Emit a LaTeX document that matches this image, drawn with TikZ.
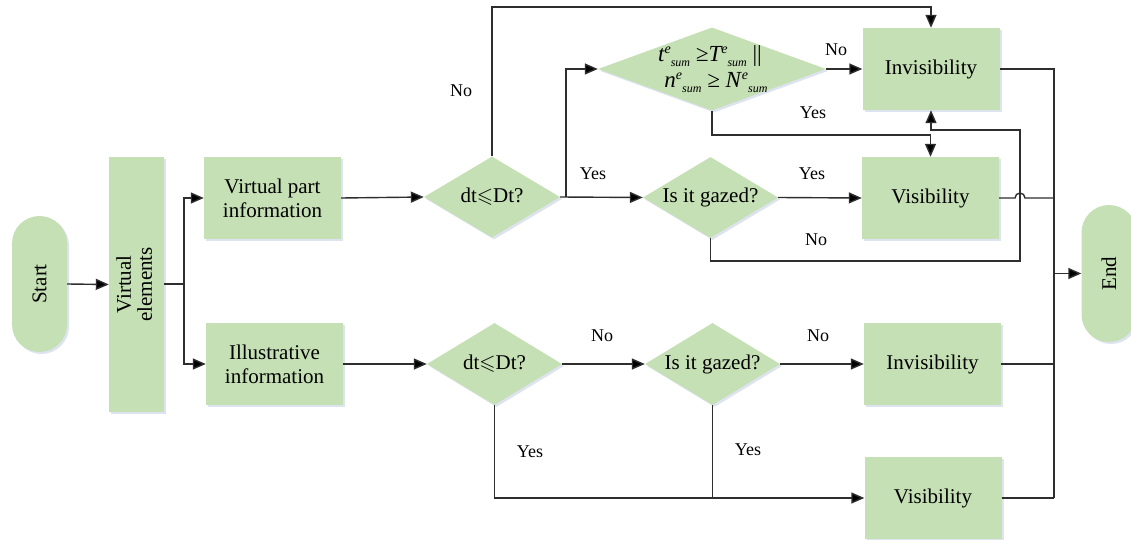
\documentclass[tikz,border=0pt]{standalone}
\usepackage{fontspec}
\usepackage{amssymb}
\setmainfont{Liberation Serif}
\usetikzlibrary{shapes.geometric,arrows.meta,shadows}
\definecolor{boxgreen}{HTML}{C5E0B4}
\definecolor{linegray}{HTML}{2E2E2E}
\definecolor{shadowblue}{HTML}{D6DEEC}
\newcommand{\esum}{\raisebox{8pt}{\fontsize{14}{14}\selectfont e}\raisebox{-5pt}{\fontsize{12}{12}\selectfont sum}}
\tikzset{
  shade/.style={drop shadow={shadow xshift=2pt,shadow yshift=-2pt,fill=shadowblue,opacity=0.8}},
  procbox/.style={rectangle,fill=boxgreen,draw=none,inner sep=0pt,minimum width=137pt,minimum height=82pt,align=center,font=\fontsize{21}{24}\selectfont,shade},
  decbox/.style={diamond,fill=boxgreen,draw=none,inner sep=0pt,minimum width=136pt,minimum height=81pt,shade},
  dtext/.style={inner sep=0pt,align=center,font=\fontsize{21}{24}\selectfont},
  termbox/.style={rectangle,rounded corners=27.5pt,fill=boxgreen,draw=none,inner sep=0pt,minimum width=55pt,minimum height=136pt,font=\fontsize{21}{24}\selectfont,shade},
  lbl/.style={font=\fontsize{18}{21}\selectfont,inner sep=0pt},
  conn/.style={draw=linegray,line width=1.4pt},
  arr/.style={conn,-{Triangle[length=13pt,width=11pt,fill=black]}},
}
\begin{document}
\begin{tikzpicture}[x=1pt,y=-1pt]
\useasboundingbox (0,0) rectangle (1131,540);
\fill[white] (0,0) rectangle (1131,540);
% nodes
\node[termbox] (start) at (39.5,284) {\rotatebox{90}{Start}};
\node[procbox,minimum width=55pt,minimum height=255pt] (ve) at (136.5,284.5) {\rotatebox{90}{\begin{tabular}{c}Virtual\\[-3pt]elements\end{tabular}}};
\node[procbox] (vp) at (272.5,198) {Virtual part\\information};
\node[procbox] (ii) at (274.5,364) {Illustrative\\information};
\node[decbox] (d1) at (492,197) {};
\node[dtext] (d1t) at (d1) {dt$\leqslant$Dt?};
\node[decbox,minimum width=135pt] (d2) at (710.5,197.5) {};
\node[dtext] (d2t) at (d2) {Is it gazed?};
\node[decbox,minimum width=228pt,minimum height=83pt] (dtop) at (712,69) {};
\node[dtext,font=\fontsize{23}{26}\selectfont\itshape] (dtop1) at (710,56) {t\esum\ ≥T\esum\ \upshape||};
\node[dtext,font=\fontsize{23}{26}\selectfont\itshape] (dtop2) at (716,83) {n\esum\ ≥ N\hspace{1pt}\esum};
\node[procbox] (inv1) at (931,69) {Invisibility};
\node[procbox] (vis1) at (930.5,198) {Visibility};
\node[decbox,minimum width=135pt,minimum height=82pt] (d3) at (494.5,364) {};
\node[dtext] (d3t) at (d3) {dt$\leqslant$Dt?};
\node[decbox,minimum width=135pt,minimum height=82pt] (d4) at (712.5,364) {};
\node[dtext] (d4t) at (d4) {Is it gazed?};
\node[procbox] (inv2) at (932.5,364) {Invisibility};
\node[procbox] (vis2) at (933,498) {Visibility};
\node[termbox,minimum height=137pt] (end) at (1109,273.5) {\rotatebox{90}{End}};
% helper coordinates
\coordinate (ytop) at (0,7);
\coordinate (split) at (184,284);
\coordinate (br) at (566,197);
\coordinate (yB) at (0,135);
\coordinate (c1) at (1020,261);
\coordinate (c2) at (1020,130);
\coordinate (busx) at (1054,0);
\coordinate (bustop) at (1054,69);
\coordinate (busbot) at (1054,498);
\coordinate (ybot) at (0,498);
% connectors
\draw[arr] (start.east) -- (ve.west);
\draw[conn] (ve.east |- split) -- (split);
\draw[arr] (split) |- (vp.west);
\draw[arr] (split) |- (ii.west);
\draw[arr] (vp.east) -- (d1.west);
\draw[arr] (d1.north) -- (d1.north |- ytop) -| (inv1.north);
\draw[arr] (d1.east) -- (d2.west);
\draw[arr] (br) |- (dtop.west);
\draw[arr] (dtop.east) -- (inv1.west);
\draw[arr] (dtop.south) -- (dtop.south |- yB) -| (vis1.north);
\draw[arr] (d2.east) -- (vis1.west);
\draw[arr] (d2.south) |- (c1) -- (c2) -| (inv1.south);
\draw[conn] (inv1.east) -- (bustop) -- (busbot);
\draw[conn] (vis1.east) -- (1015,198) arc[start angle=180,end angle=360,radius=5] -- (vis1.east -| busx);
\draw[arr] (end.west -| busx) -- (end.west);
\draw[arr] (ii.east) -- (d3.west);
\draw[arr] (d3.east) -- (d4.west);
\draw[arr] (d4.east) -- (inv2.west);
\draw[arr] (d3.south) |- (vis2.west);
\draw[conn] (d4.south) -- (d4.south |- ybot);
\draw[conn] (inv2.east) -- (inv2.east -| busx);
\draw[conn] (vis2.east) -- (busbot);
% labels
\node[lbl] (l1) at (461,91) {No};
\node[lbl] (l2) at (593,174) {Yes};
\node[lbl] (l3) at (836,50) {No};
\node[lbl] (l4) at (813,113) {Yes};
\node[lbl] (l5) at (812,174) {Yes};
\node[lbl] (l6) at (816,240) {No};
\node[lbl] (l7) at (602,336) {No};
\node[lbl] (l8) at (818,336) {No};
\node[lbl] (l9) at (530,452) {Yes};
\node[lbl] (l10) at (748,450) {Yes};
\end{tikzpicture}
\end{document}
